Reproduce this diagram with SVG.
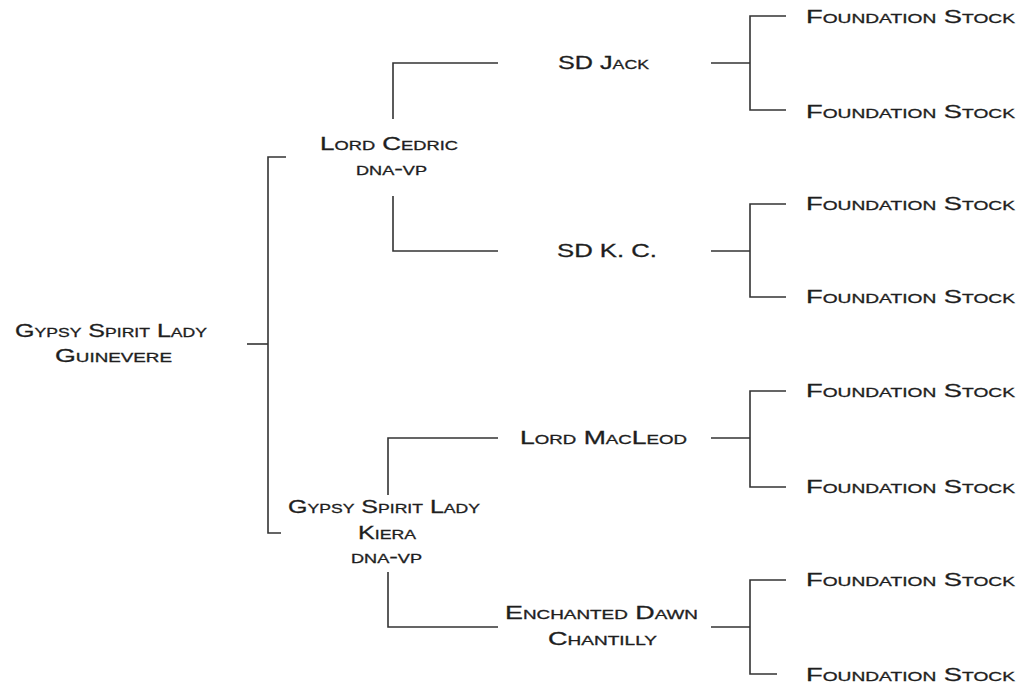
<svg xmlns="http://www.w3.org/2000/svg" width="1021" height="686" viewBox="0 0 1021 686">
<style>
.t{font-family:"Liberation Sans","Arial",sans-serif;font-size:18.5px;font-variant:small-caps;fill:#1e1e1e;stroke:#1e1e1e;stroke-width:0.3;}
.c{fill:none;stroke:#333;stroke-width:1.6;}
</style>
<rect width="1021" height="686" fill="#fff"/>
<g id="connectors" class="c">
<path d="M247 344H268"/>
<path d="M286 157H268V533H281"/>
<path d="M498 63H393V119"/>
<path d="M393 196V251H498"/>
<path d="M498 438H388V495"/>
<path d="M388 572V627H498"/>
<path d="M711 63H750"/>
<path d="M786 16H750V110H786"/>
<path d="M711 251H750"/>
<path d="M786 204H750V297H786"/>
<path d="M711 438H750"/>
<path d="M786 391H750V487H786"/>
<path d="M711 627H750"/>
<path d="M786 580H750V674H777"/>
</g>
<g id="n-guinevere"><text class="t" x="15" y="337" textLength="192" lengthAdjust="spacingAndGlyphs">Gypsy Spirit Lady</text><text class="t" x="55" y="362" textLength="117" lengthAdjust="spacingAndGlyphs">Guinevere</text></g>
<g id="n-cedric"><text class="t" x="320" y="150" textLength="138" lengthAdjust="spacingAndGlyphs">Lord Cedric</text><text class="t" x="356" y="175" textLength="71" lengthAdjust="spacingAndGlyphs">dna-vp</text></g>
<g id="n-kiera"><text class="t" x="288" y="513" textLength="192" lengthAdjust="spacingAndGlyphs">Gypsy Spirit Lady</text><text class="t" x="358" y="539" textLength="58" lengthAdjust="spacingAndGlyphs">Kiera</text><text class="t" x="351" y="563" textLength="71" lengthAdjust="spacingAndGlyphs">dna-vp</text></g>
<g id="n-jack"><text class="t" x="558" y="69" textLength="91" lengthAdjust="spacingAndGlyphs">SD Jack</text></g>
<g id="n-kc"><text class="t" x="557" y="257" textLength="100" lengthAdjust="spacingAndGlyphs">SD K. C.</text></g>
<g id="n-macleod"><text class="t" x="520" y="444" textLength="167" lengthAdjust="spacingAndGlyphs">Lord MacLeod</text></g>
<g id="n-chantilly"><text class="t" x="505" y="619" textLength="193" lengthAdjust="spacingAndGlyphs">Enchanted Dawn</text><text class="t" x="548" y="645" textLength="109" lengthAdjust="spacingAndGlyphs">Chantilly</text></g>
<g id="n-fs1"><text class="t" x="806" y="23" textLength="209" lengthAdjust="spacingAndGlyphs">Foundation Stock</text></g>
<g id="n-fs2"><text class="t" x="806" y="118" textLength="209" lengthAdjust="spacingAndGlyphs">Foundation Stock</text></g>
<g id="n-fs3"><text class="t" x="806" y="210" textLength="209" lengthAdjust="spacingAndGlyphs">Foundation Stock</text></g>
<g id="n-fs4"><text class="t" x="806" y="303" textLength="209" lengthAdjust="spacingAndGlyphs">Foundation Stock</text></g>
<g id="n-fs5"><text class="t" x="806" y="397" textLength="209" lengthAdjust="spacingAndGlyphs">Foundation Stock</text></g>
<g id="n-fs6"><text class="t" x="806" y="493" textLength="209" lengthAdjust="spacingAndGlyphs">Foundation Stock</text></g>
<g id="n-fs7"><text class="t" x="806" y="586" textLength="209" lengthAdjust="spacingAndGlyphs">Foundation Stock</text></g>
<g id="n-fs8"><text class="t" x="806" y="681" textLength="209" lengthAdjust="spacingAndGlyphs">Foundation Stock</text></g>
</svg>
